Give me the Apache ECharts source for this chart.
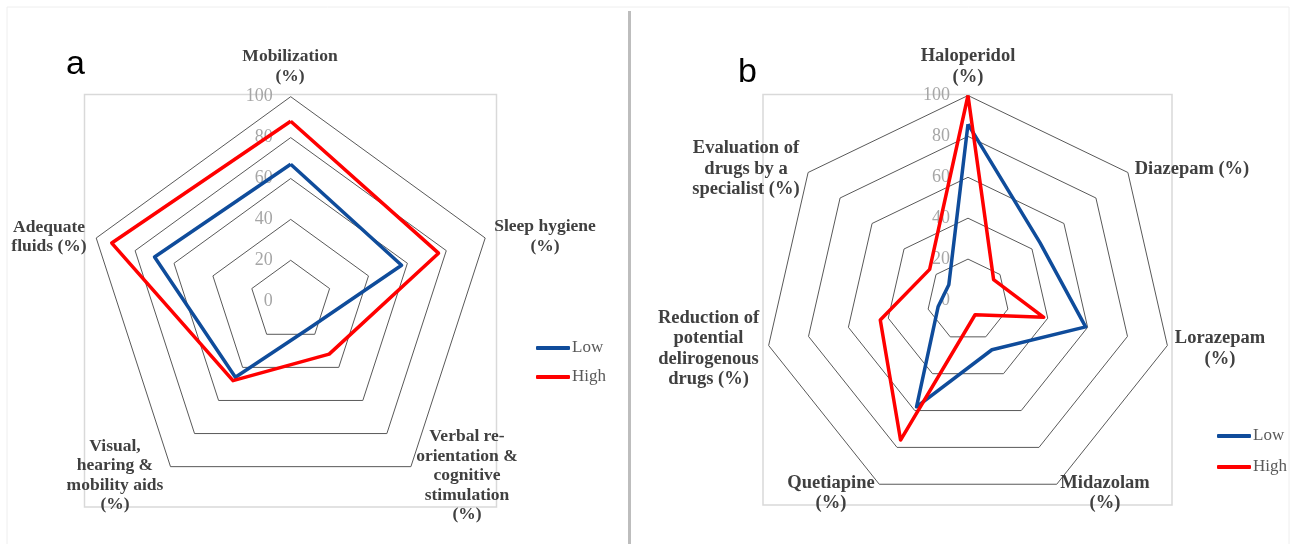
<!DOCTYPE html>
<html>
<head>
<meta charset="utf-8">
<script src="https://cdn.jsdelivr.net/npm/echarts@6/dist/echarts.min.js"></script>
<style>
html,body{margin:0;padding:0;background:#fff;}
#chart{width:1291px;height:544px;}
</style>
</head>
<body>
<div id="chart"></div>
<script>
// ---- data (clockwise from top) ----
const leftCategories = [
  'Mobilization\n(%)',
  'Sleep hygiene\n(%)',
  'Verbal re-\norientation &\ncognitive\nstimulation\n(%)',
  'Visual,\nhearing &\nmobility aids\n(%)',
  'Adequate\nfluids (%)'
];
const leftLow  = [67, 57, 16, 46, 70];
const leftHigh = [88, 76, 32, 48, 92];

const rightCategories = [
  'Haloperidol\n(%)',
  'Diazepam (%)',
  'Lorazepam\n(%)',
  'Midazolam\n(%)',
  'Quetiapine\n(%)',
  'Reduction of\npotential\ndelirogenous\ndrugs (%)',
  'Evaluation of\ndrugs by a\nspecialist (%)'
];
const rightLow  = [86, 45, 59, 27, 58, 15, 12];
const rightHigh = [100, 16, 38, 8, 76, 44, 24];

const tickValues = [0, 20, 40, 60, 80, 100];
const seriesNames = ['Low', 'High'];
const panelLetters = ['a', 'b'];

// ---- layout / style ----
const COLORS = {Low: '#0f4c9b', High: '#ff0000'};
const SERIF = 'Liberation Serif';
const leftCenter = [290.7, 301.2], rightCenter = [968, 300];
const RADIUS = 204.5;
const leftNamePos  = [[290,65],[545,235],[467,474],[115,474],[49,235.5]];
const rightNamePos = [[968,65],[1192,167.6],[1220,347],[1105,491.5],[831,491.5],[708.5,347],[746,167.6]];

// ECharts lays indicators counter-clockwise; reorder clockwise lists
function ccw(arr){ return [arr[0]].concat(arr.slice(1).reverse()); }

function buildIndicators(cats, center, namePos, fontSize, lineHeight){
  const n = cats.length;
  const list = cats.map(function(name, j){
    const th = (90 - j*360/n) * Math.PI/180;
    const dx = Math.cos(th), dy = -Math.sin(th);
    const ex = center[0] + RADIUS*dx;
    const ey = center[1] + RADIUS*dy;
    const ty = namePos[j][1] + 1.5;
    let g;
    if (Math.abs(dy) > 0.15) g = (ty - ey) / dy;
    else g = (namePos[j][0] - ex) / dx;
    const ax = ex + g*dx;
    const sx = namePos[j][0] - ax;
    const ind = {
      name: name,
      min: tickValues[0],
      max: tickValues[tickValues.length-1],
      nameGap: g,
      nameMoveOverlap: false,
      nameTextStyle: {
        align: 'center', verticalAlign: 'middle',
        fontSize: fontSize, lineHeight: lineHeight,
        padding: [0, Math.max(0,-2*sx), 0, Math.max(0,2*sx)]
      }
    };
    if (j === 0) {
      ind.axisLabel = {show: true, color: '#a6a6a6', fontFamily: SERIF, fontSize: 18, margin: 18};
    }
    return ind;
  });
  return ccw(list);
}

function radarCfg(cats, center, namePos, fontSize, lineHeight){
  return {
    center: center,
    radius: RADIUS,
    startAngle: 90,
    shape: 'polygon',
    splitNumber: tickValues.length - 1,
    indicator: buildIndicators(cats, center, namePos, fontSize, lineHeight),
    axisName: {color: '#404040', fontFamily: SERIF, fontWeight: 'bold', fontSize: fontSize, lineHeight: lineHeight},
    splitLine: {lineStyle: {color: '#595959', width: 1}},
    splitArea: {show: false},
    axisLine: {show: false},
    axisTick: {show: false},
    axisLabel: {show: false}
  };
}

function seriesCfg(idx, low, high){
  const vals = {Low: low, High: high};
  return {
    type: 'radar',
    radarIndex: idx,
    symbol: 'none',
    silent: true,
    data: seriesNames.map(function(nm){
      return {
        name: nm,
        value: ccw(vals[nm]),
        lineStyle: {color: COLORS[nm], width: 3.5},
        itemStyle: {color: COLORS[nm]}
      };
    })
  };
}

function legendCfg(left, top, gap){
  return {
    data: seriesNames,
    orient: 'vertical',
    left: left, top: top,
    icon: 'roundRect',
    itemWidth: 34, itemHeight: 4,
    itemGap: gap,
    textStyle: {fontFamily: SERIF, fontSize: 17, color: '#595959', lineHeight: 20, padding: [0,0,0,-3]},
    selectedMode: false
  };
}

const chart = echarts.init(document.getElementById('chart'), null, {renderer: 'canvas'});
chart.setOption({
  animation: false,
  backgroundColor: '#ffffff',
  radar: [
    radarCfg(leftCategories, leftCenter, leftNamePos, 17.5, 19.5),
    radarCfg(rightCategories, rightCenter, rightNamePos, 18.5, 20.5)
  ],
  series: [
    seriesCfg(0, leftLow, leftHigh),
    seriesCfg(1, rightLow, rightHigh)
  ],
  legend: [legendCfg(531, 333, 9), legendCfg(1212, 421, 11)],
  graphic: [
    {type: 'rect', silent: true, z: -10, shape: {x: 7, y: 7, width: 1282, height: 540}, style: {fill: 'none', stroke: '#eeeeee', lineWidth: 1}},
    {type: 'rect', silent: true, z: -5, shape: {x: 84.5, y: 94.5, width: 412, height: 412.5}, style: {fill: 'none', stroke: '#d9d9d9', lineWidth: 1.5}},
    {type: 'rect', silent: true, z: -5, shape: {x: 763, y: 94.5, width: 409, height: 410.5}, style: {fill: 'none', stroke: '#d9d9d9', lineWidth: 1.5}},
    {type: 'line', silent: true, shape: {x1: 629.5, y1: 11, x2: 629.5, y2: 544}, style: {stroke: '#bdbdbd', lineWidth: 3}},
    {type: 'text', silent: true, x: 66, y: 82, style: {text: panelLetters[0], font: '34px "Liberation Sans"', fill: '#000', textVerticalAlign: 'bottom'}},
    {type: 'text', silent: true, x: 738, y: 90, style: {text: panelLetters[1], font: '34px "Liberation Sans"', fill: '#000', textVerticalAlign: 'bottom'}}
  ]
});
</script>
</body>
</html>
